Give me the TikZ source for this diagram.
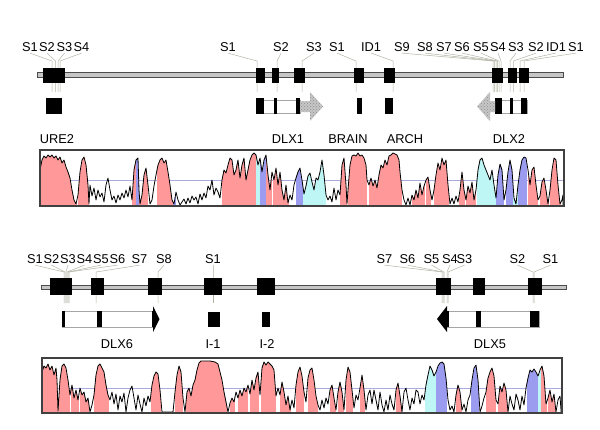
\documentclass[tikz,border=0pt]{standalone}
\usepackage{fontspec}
\setmainfont{Liberation Sans}
\usetikzlibrary{patterns}
\definecolor{conspink}{RGB}{255,153,153}
\definecolor{consblue}{RGB}{155,155,240}
\definecolor{conscyan}{RGB}{190,245,245}
\definecolor{thrline}{RGB}{170,170,225}
\definecolor{leadc}{RGB}{178,178,165}
\tikzset{
  lbl/.style={font=\fontsize{12.8}{14}\selectfont, anchor=base, inner sep=2pt, outer sep=0pt},
  leader/.style={draw=leadc, line width=0.5pt},
  chrom/.style={fill=gray!45, draw=black!70, line width=0.5pt},
  utr/.style={fill=white, draw=gray!70, line width=0.5pt},
  arrowfill/.style={fill=gray!45, postaction={pattern=crosshatch dots, pattern color=gray!90}},
  frame/.style={draw=black!75, line width=1.3pt},
  thr/.style={draw=thrline, line width=0.5pt},
  cons/.style={draw=black, line width=0.8pt, line join=round}
}
\def\topcurve{(40,206) -- (40,170) -- (42,160) -- (44,156) -- (46,158) -- (48,155) -- (50,157) -- (52,155) -- (54,158) -- (56,156) -- (58,160) -- (60,157) -- (62,163) -- (64,160) -- (66,167) -- (68,172) -- (70,178) -- (72,190) -- (74,200) -- (76,204) -- (78,195) -- (80,172) -- (82,160) -- (84,157) -- (86,165) -- (88,185) -- (89,204) -- (90,185) -- (92,196) -- (94,188) -- (96,200) -- (98,190) -- (100,197) -- (102,193) -- (104,202) -- (106,185) -- (108,178) -- (110,190) -- (112,200) -- (114,196) -- (116,203) -- (118,195) -- (120,200) -- (122,193) -- (124,198) -- (126,190) -- (128,197) -- (130,186) -- (132,200) -- (134,170) -- (136,160) -- (138,158) -- (139,190) -- (140,204) -- (142,195) -- (144,175) -- (146,168) -- (148,185) -- (150,204) -- (152,200) -- (154,186) -- (156,175) -- (158,165) -- (160,160) -- (162,158) -- (164,163) -- (166,160) -- (168,172) -- (170,185) -- (172,200) -- (174,204) -- (176,192) -- (178,200) -- (180,205) -- (182,202) -- (184,199) -- (186,204) -- (188,198) -- (190,203) -- (192,196) -- (194,200) -- (196,197) -- (198,204) -- (200,194) -- (202,200) -- (204,193) -- (206,198) -- (208,186) -- (210,190) -- (212,180) -- (214,195) -- (216,188) -- (218,192) -- (220,198) -- (222,180) -- (224,170) -- (226,173) -- (228,165) -- (230,158) -- (232,160) -- (234,175) -- (236,170) -- (238,160) -- (240,178) -- (242,165) -- (244,158) -- (246,180) -- (248,170) -- (250,160) -- (252,155) -- (254,153) -- (256,155) -- (258,165) -- (260,158) -- (262,172) -- (264,160) -- (266,155) -- (268,175) -- (270,190) -- (272,172) -- (274,180) -- (276,168) -- (278,185) -- (280,172) -- (282,190) -- (284,200) -- (286,185) -- (288,203) -- (290,195) -- (292,200) -- (294,185) -- (296,178) -- (298,172) -- (300,168) -- (302,180) -- (304,194) -- (306,186) -- (308,176) -- (310,173) -- (312,182) -- (314,190) -- (316,178) -- (318,180) -- (320,172) -- (322,160) -- (324,175) -- (326,195) -- (328,200) -- (330,196) -- (332,202) -- (334,188) -- (336,200) -- (338,190) -- (340,195) -- (342,165) -- (344,158) -- (346,185) -- (347,204) -- (348,190) -- (350,165) -- (352,156) -- (354,155) -- (356,156) -- (358,153) -- (360,156) -- (362,155) -- (364,158) -- (366,165) -- (367,180) -- (369,185) -- (371,178) -- (373,186) -- (375,180) -- (377,188) -- (379,175) -- (381,165) -- (383,168) -- (385,160) -- (387,165) -- (389,156) -- (391,155) -- (393,153) -- (395,154) -- (397,155) -- (399,160) -- (400,172) -- (402,190) -- (404,200) -- (406,205) -- (408,198) -- (410,205) -- (412,195) -- (414,200) -- (416,190) -- (418,198) -- (420,183) -- (422,195) -- (424,186) -- (426,180) -- (428,177) -- (430,190) -- (432,200) -- (434,190) -- (436,175) -- (438,163) -- (440,170) -- (442,158) -- (444,165) -- (446,160) -- (448,185) -- (450,204) -- (452,198) -- (454,204) -- (456,196) -- (458,202) -- (460,190) -- (462,172) -- (464,190) -- (466,200) -- (468,186) -- (470,193) -- (472,182) -- (474,200) -- (476,190) -- (478,170) -- (480,160) -- (482,158) -- (484,165) -- (486,170) -- (488,175) -- (490,180) -- (492,170) -- (494,185) -- (496,198) -- (498,175) -- (500,164) -- (502,170) -- (504,200) -- (506,190) -- (508,172) -- (510,160) -- (512,170) -- (514,198) -- (516,204) -- (518,185) -- (520,170) -- (522,160) -- (524,157) -- (526,158) -- (528,170) -- (530,185) -- (532,170) -- (534,167) -- (536,185) -- (538,200) -- (540,196) -- (542,182) -- (544,178) -- (546,190) -- (548,204) -- (550,190) -- (552,170) -- (554,158) -- (556,160) -- (558,185) -- (560,204) -- (562,200) -- (563,195) -- (563,206)}
\def\botcurve{(42,413) -- (42,372) -- (44,366) -- (46,368) -- (48,364) -- (50,370) -- (52,366) -- (54,375) -- (56,368) -- (57,380) -- (58,411) -- (60,380) -- (62,366) -- (64,364) -- (66,368) -- (68,380) -- (70,395) -- (72,385) -- (74,398) -- (76,390) -- (78,400) -- (80,388) -- (82,395) -- (84,392) -- (86,402) -- (88,398) -- (90,412) -- (92,405) -- (94,395) -- (96,375) -- (98,366) -- (100,364) -- (102,368) -- (104,372) -- (106,385) -- (108,395) -- (110,400) -- (112,392) -- (114,404) -- (116,394) -- (118,410) -- (120,396) -- (122,402) -- (124,393) -- (126,412) -- (128,398) -- (130,390) -- (132,386) -- (134,398) -- (136,410) -- (138,395) -- (140,404) -- (142,412) -- (144,398) -- (146,406) -- (148,396) -- (150,402) -- (152,385) -- (154,376) -- (156,372) -- (158,374) -- (160,390) -- (162,412) -- (173,412) -- (175,392) -- (177,375) -- (179,366) -- (181,372) -- (183,398) -- (185,412) -- (187,392) -- (189,388) -- (191,396) -- (193,385) -- (195,380) -- (197,370) -- (199,363) -- (201,361) -- (210,361) -- (215,362) -- (218,364) -- (220,372) -- (222,380) -- (224,392) -- (226,402) -- (228,412) -- (230,403) -- (232,398) -- (234,402) -- (236,392) -- (238,398) -- (240,390) -- (242,396) -- (244,388) -- (246,392) -- (248,385) -- (250,394) -- (252,380) -- (254,390) -- (256,378) -- (258,372) -- (260,395) -- (262,368) -- (264,362) -- (266,365) -- (268,362) -- (270,364) -- (272,366) -- (274,370) -- (276,396) -- (278,388) -- (280,395) -- (282,382) -- (284,392) -- (286,405) -- (288,396) -- (290,410) -- (292,400) -- (294,408) -- (296,385) -- (298,372) -- (300,367) -- (302,376) -- (304,392) -- (306,402) -- (308,378) -- (310,370) -- (312,368) -- (314,380) -- (316,396) -- (318,405) -- (320,410) -- (322,400) -- (324,408) -- (326,398) -- (328,404) -- (330,390) -- (332,385) -- (334,398) -- (336,410) -- (338,392) -- (340,382) -- (342,392) -- (344,410) -- (346,380) -- (348,367) -- (350,372) -- (352,390) -- (354,408) -- (356,395) -- (358,400) -- (360,388) -- (362,375) -- (364,390) -- (366,410) -- (368,395) -- (370,390) -- (372,404) -- (374,390) -- (376,400) -- (378,410) -- (380,392) -- (382,405) -- (384,412) -- (386,400) -- (388,410) -- (390,395) -- (392,404) -- (394,410) -- (396,390) -- (398,383) -- (400,396) -- (402,412) -- (404,392) -- (406,388) -- (408,400) -- (410,410) -- (412,398) -- (414,404) -- (416,390) -- (418,392) -- (420,404) -- (422,395) -- (424,400) -- (426,385) -- (428,375) -- (430,366) -- (432,370) -- (434,376) -- (436,372) -- (438,366) -- (440,363) -- (442,362) -- (444,364) -- (446,378) -- (448,400) -- (450,410) -- (452,406) -- (454,412) -- (456,395) -- (458,385) -- (460,392) -- (462,410) -- (464,404) -- (466,412) -- (468,400) -- (470,395) -- (472,380) -- (474,368) -- (476,365) -- (478,380) -- (480,412) -- (482,406) -- (484,398) -- (486,392) -- (488,378) -- (490,372) -- (492,368) -- (494,376) -- (496,400) -- (498,404) -- (500,386) -- (502,392) -- (504,383) -- (506,390) -- (508,412) -- (510,396) -- (512,404) -- (514,410) -- (516,394) -- (518,400) -- (520,410) -- (522,396) -- (524,405) -- (526,388) -- (528,378) -- (530,370) -- (532,372) -- (534,369) -- (536,372) -- (538,376) -- (540,370) -- (542,366) -- (544,376) -- (546,404) -- (548,398) -- (550,390) -- (552,402) -- (554,394) -- (556,412) -- (558,400) -- (560,396) -- (561,410) -- (561,413)}
\begin{document}
\begin{tikzpicture}[x=1pt, y=-1pt]
\useasboundingbox (0,0) rectangle (600,429);
\foreach \t/\lx/\tx [count=\i] in {S1/30/52, S2/47/55.5, S3/64.5/58, S4/81.5/60, S1/228/257, S2/281/277, S3/314/302, S1/337/356, ID1/371/393, S9/402/493, S8/425/494.5, S7/444/496, S6/462/497.5, S5/481/499, S4/498/501, S3/516/510, S2/536/513.5, ID1/556/520, S1/576/524}{
  \node[lbl] (top\i) at (\lx,51) {\t};
  \coordinate (tk\i) at (\tx,61);
  \coordinate (te\i) at (\tx,92);
  \draw[leader] (top\i.south) -- (tk\i) -- (te\i);
}
\draw[chrom] (37,72) rectangle (563,77);
\foreach \a/\b in {43/65, 256/265, 272/279, 294/305, 354/364, 384/395, 492/503, 508/517, 519/529}
  \fill (\a,68) rectangle (\b,83);
\fill (46,98) rectangle (62,114);
\draw[utr] (256,100) rectangle (300,113);
\foreach \a/\b in {256/264, 274/277, 296/300}
  \fill (\a,98) rectangle (\b,114);
\fill[arrowfill] (300,101) -- (310,101) -- (310,92) -- (323,106.5) -- (310,121) -- (310,112) -- (300,112) -- cycle;
\fill (357,98) rectangle (362,114);
\fill (385,98) rectangle (393,114);
\draw[utr] (495,100) rectangle (527,113);
\foreach \a/\b in {495/502, 510/513, 521/527}
  \fill (\a,98) rectangle (\b,114);
\fill[arrowfill] (495,101) -- (490,101) -- (490,92) -- (477,106.5) -- (490,121) -- (490,112) -- (495,112) -- cycle;
\node[lbl] (ure2) at (57,143) {URE2};
\node[lbl] (dlx1) at (288,143) {DLX1};
\node[lbl] (brain) at (348,143) {BRAIN};
\node[lbl] (arch) at (405,143) {ARCH};
\node[lbl] (dlx2) at (509,143) {DLX2};
\draw[thr] (40,180) -- (564,180);
\begin{scope}
  \clip \topcurve -- cycle;
  \foreach \a/\b in {40/77, 78/89, 132/136, 139/148, 157/173, 222/256, 266/272, 273/289, 340/347, 348/367, 369/402, 412/425, 426/431, 434/449, 459/465, 466/476, 528/538, 540/549, 550/561}
    \fill[conspink] (\a,150) rectangle (\b,206);
  \foreach \a/\b in {136/139, 173/176, 260/266, 296/303, 496/504, 506/513, 518/527}
    \fill[consblue] (\a,150) rectangle (\b,206);
  \foreach \a/\b in {256/260, 303/326, 477/496, 513/518}
    \fill[conscyan] (\a,150) rectangle (\b,206);
\end{scope}
\draw[cons] \topcurve;
\draw[frame] (40,150) rectangle (564,206);
\foreach \t/\lx/\tx [count=\i] in {S1/35/64, S2/51.5/65, S3/68/66, S4/84.5/67, S5/101/68, S6/117.5/69, S7/139.5/96, S8/164/158, S1/213/213, S7/384.5/442, S6/407.5/443, S5/431.5/444, S4/450/447, S3/464.5/448, S2/517.5/533, S1/550.5/534}{
  \node[lbl] (bot\i) at (\lx,263) {\t};
  \coordinate (bk\i) at (\tx,272);
  \coordinate (be\i) at (\tx,303);
  \draw[leader] (bot\i.south) -- (bk\i) -- (be\i);
}
\draw[chrom] (41,285) rectangle (566,289);
\foreach \a/\b in {50/72, 91/104, 148/162, 204/222, 257/275, 436/451, 473/485, 528/542}
  \fill (\a,278) rectangle (\b,295);
\draw[utr] (62,311) rectangle (153,327);
\fill (62,311) rectangle (64.5,327);
\fill (97,311) rectangle (102,327);
\fill (152,311) rectangle (154,327);
\fill (153,306) -- (159.5,319) -- (153,332) -- cycle;
\fill (208,312) rectangle (220,327);
\fill (262,312) rectangle (270,327);
\draw[utr] (447,311) rectangle (539,327);
\fill (446,311) rectangle (449,327);
\fill (447,306) -- (437,319) -- (447,332) -- cycle;
\fill (476,311) rectangle (481,327);
\fill (530,311) rectangle (539,327);
\node[lbl] (dlx6) at (117,348) {DLX6};
\node[lbl] (ione) at (213,348) {I-1};
\node[lbl] (itwo) at (267,348) {I-2};
\node[lbl] (dlx5) at (490,348) {DLX5};
\draw[thr] (42,388) -- (562,388);
\begin{scope}
  \clip \botcurve -- cycle;
  \foreach \a/\b in {42/58, 58/70, 71/79, 80/89, 94/109, 151/161, 175/183, 186/227, 230/235, 238/248, 250/259, 261/276, 280/291, 296/304, 308/318, 330/336, 338/344, 346/353, 360/365, 396/402, 456/462, 486/496, 498/508, 541/547, 548/556}
    \fill[conspink] (\a,358) rectangle (\b,413);
  \foreach \a/\b in {436/447, 471/479, 527/538}
    \fill[consblue] (\a,358) rectangle (\b,413);
  \foreach \a/\b in {425/436, 538/541}
    \fill[conscyan] (\a,358) rectangle (\b,413);
\end{scope}
\draw[cons] \botcurve;
\draw[frame] (42,358) rectangle (562,413);
\end{tikzpicture}
\end{document}
